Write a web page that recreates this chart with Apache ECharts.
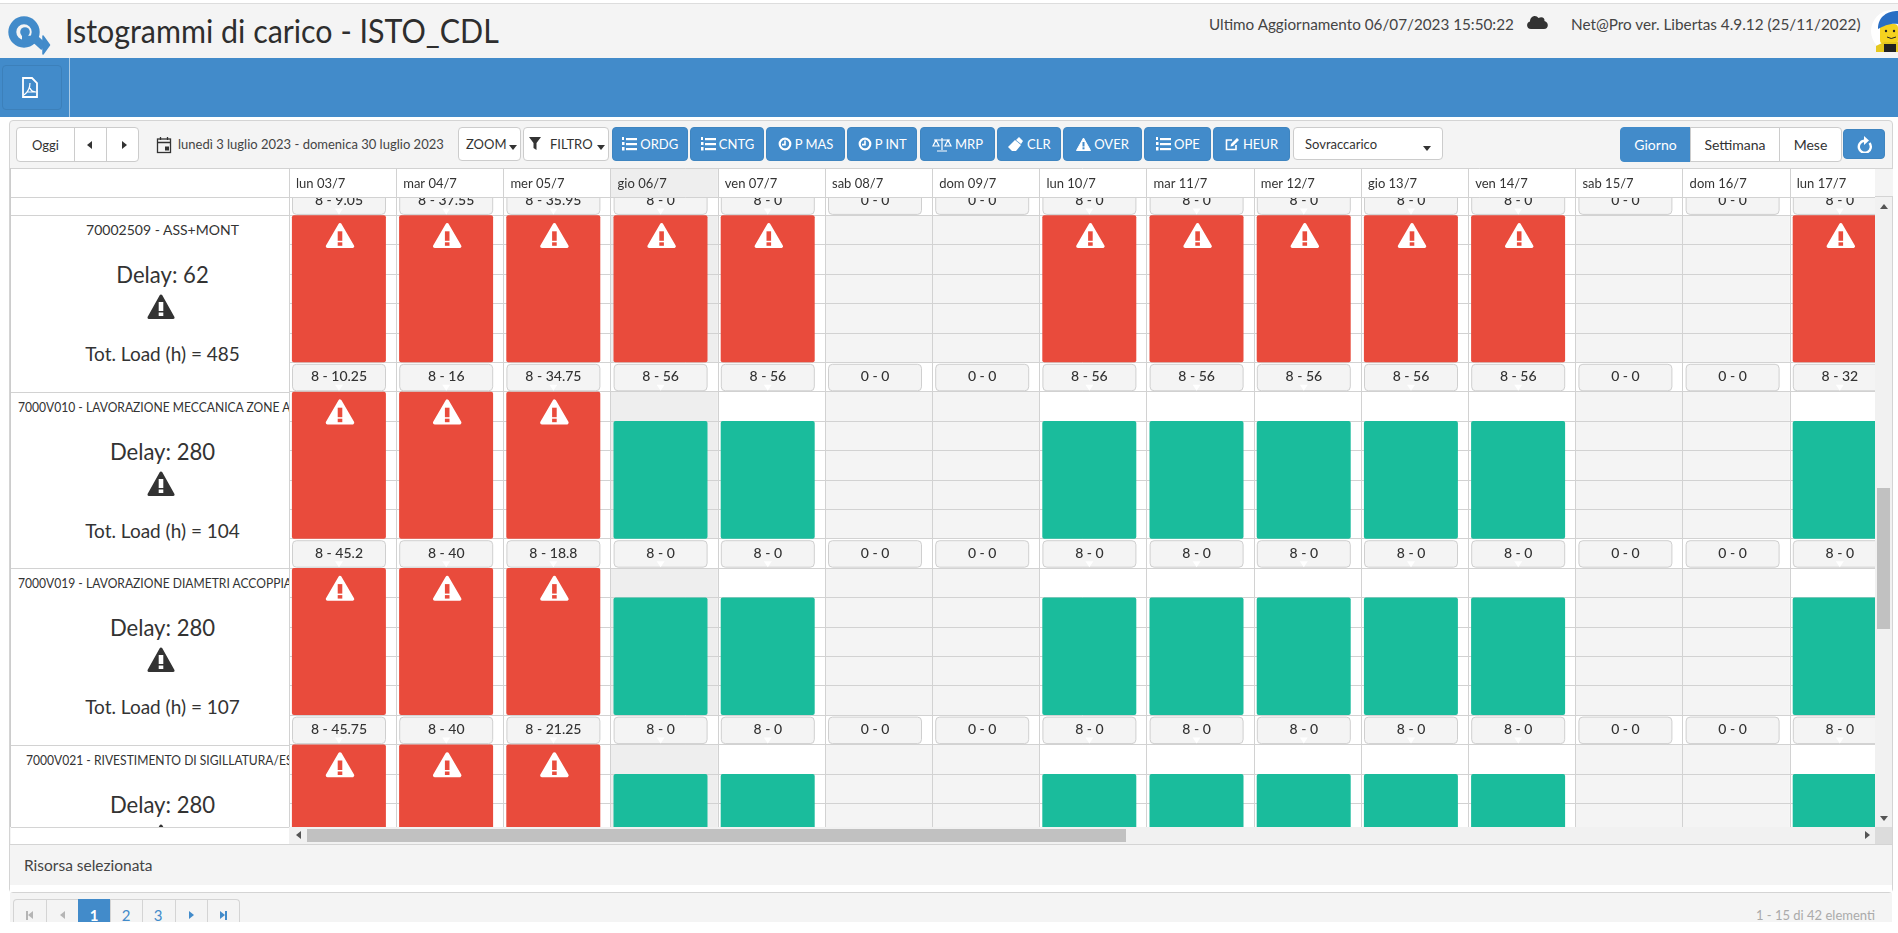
<!DOCTYPE html>
<html lang="it"><head><meta charset="utf-8"><title>Istogrammi di carico - ISTO_CDL</title>
<script src="https://cdn.jsdelivr.net/npm/echarts@6/dist/echarts.min.js"></script>
<style>
html,body{margin:0;padding:0;background:#fff;width:1898px;height:933px;overflow:hidden;font-family:Lato,"Noto Sans",sans-serif;color:#333}
.a{position:absolute;box-sizing:border-box}
.btn{position:absolute;top:127px;height:34px;background:#428bca;border:1px solid #3f85c0;border-radius:4px;color:#fff;font-size:14px;display:flex;align-items:center;justify-content:center;gap:3px;white-space:nowrap}
.wbtn{position:absolute;background:#fff;border:1px solid #ccc;border-radius:4px;font-size:13px;display:flex;align-items:center;white-space:nowrap;box-sizing:border-box}
.caret{position:absolute;width:0;height:0;border-left:4px solid transparent;border-right:4px solid transparent;border-top:5px solid #333}
.tx{position:absolute;white-space:nowrap}
</style></head><body>
<div id="chrome"></div>
<div id="chart" class="a" style="left:10px;top:168px;width:1865px;height:659px;z-index:1"></div>
<div id="leftcol" class="a" style="left:10px;top:168px;width:279px;height:659px;overflow:hidden;background:#fff;z-index:2;border-left:1px solid #ccc"></div>
<div id="over"></div>
<script>
// ---- data ----
const categories = ['lun 03/7','mar 04/7','mer 05/7','gio 06/7','ven 07/7','sab 08/7','dom 09/7','lun 10/7','mar 11/7','mer 12/7','gio 13/7','ven 14/7','sab 15/7','dom 16/7','lun 17/7'];
const capacity = [8,8,8,8,8,0,0,8,8,8,8,8,0,0,8];
const todayIndex = 3;
const load0 = [9.05,37.55,35.95,0,0,0,0,0,0,0,0,0,0,0,0];
const load1 = [10.25,16,34.75,56,56,0,0,56,56,56,56,56,0,0,32];
const load2 = [45.2,40,18.8,0,0,0,0,0,0,0,0,0,0,0,0];
const load3 = [45.75,40,21.25,0,0,0,0,0,0,0,0,0,0,0,0];
const load4 = [45,40,20,0,0,0,0,0,0,0,0,0,0,0,0];
const resourceNames = ['70002509 - ASS+MONT','7000V010 - LAVORAZIONE MECCANICA ZONE ACCOPPIAMENTO','7000V019 - LAVORAZIONE DIAMETRI ACCOPPIAMENTO','7000V021 - RIVESTIMENTO DI SIGILLATURA/ESTERNO'];
const delays = [62,280,280,280];
const totalLoads = [485,104,107,null];
const toolbarLabels = ['ORDG','CNTG','P MAS','P INT','MRP','CLR','OVER','OPE','HEUR'];
const viewLabels = ['Giorno','Settimana','Mese'];
const pages = ['1','2','3'];

// ---- layout constants (pixels of the page) ----
const RED='#e94b3c', GREEN='#1abc9c', LINE='#d2d2d2', BLUE='#428bca', WEEKEND='#f4f4f4', TODAY='#eeeeee';
const CHART_X=10, CHART_Y=168, COL0=289, COLW=107.2, ROWH=176.4, ROW0=38.9;
const rowsLoad=[load0,load1,load2,load3,load4];

function buttonRender(params,api){
  const i=api.value(0), cap=api.value(1), load=api.value(2);
  const p=api.coord([i,0]), band=api.size([1,0])[0], left=p[0]-band/2, y=p[1];
  const bx=left+3.5, bw=93, by=y+2, bh=26.5, cx=bx+bw/2;
  const ch=[
    {type:'rect',shape:{x:bx,y:by,width:bw,height:bh,r:4},style:{fill:'#f4f4f4',stroke:'#cfcfcf',lineWidth:1}},
    {type:'text',style:{text:cap+' - '+load,x:cx,y:by+12.5,align:'center',verticalAlign:'middle',fontSize:14,fontFamily:'Lato',fontWeight:500,fill:'#333'}}
  ];
  if(cap>0) ch.push({type:'polygon',shape:{points:[[cx-4,by+bh-6],[cx+4,by+bh-6],[cx,by+bh]]},style:{fill:'#fff'}});
  if(load>cap){
    const top=api.coord([i,10])[1], c=left+51;
    ch.push({type:'polygon',shape:{points:[[c,top+9.5],[c+12.5,top+31],[c-12.5,top+31]]},style:{fill:'#fff',stroke:'#fff',lineWidth:3.5,lineJoin:'round'}});
    ch.push({type:'rect',shape:{x:c-2.3,y:top+16,width:4.6,height:9.5},style:{fill:RED}});
    ch.push({type:'rect',shape:{x:c-2.3,y:top+27,width:4.6,height:3.5},style:{fill:RED}});
  }
  return {type:'group',children:ch};
}
function backRender(params,api){
  const i=api.value(0), cap=api.value(1);
  if(cap>0 && i!==todayIndex) return null;
  const a=api.coord([i,10]), b=api.coord([i,0]), band=api.size([1,0])[0];
  return {type:'rect',shape:{x:a[0]-band/2,y:a[1],width:band,height:b[1]-a[1]},style:{fill:cap>0?TODAY:WEEKEND}};
}
function headRender(params,api){
  const i=api.value(0), a=api.coord([i,1]), b=api.coord([i+1,0]);
  return {type:'rect',shape:{x:a[0],y:a[1],width:b[0]-a[0],height:b[1]-a[1]},style:{fill:TODAY}};
}

const grids=[],xAxes=[],yAxes=[],series=[];
const gridLeft=COL0-CHART_X, gridWidth=COLW*categories.length;
rowsLoad.forEach((load,r)=>{
  const rows=categories.map((c,i)=>[i,capacity[i],load[i]]);
  grids.push({outerBoundsMode:'none',left:gridLeft,top:ROW0-CHART_Y+ROWH*r,width:gridWidth,height:ROWH});
  xAxes.push({type:'category',gridIndex:r,data:categories,z:1,axisLabel:{show:false},axisTick:{show:false},axisLine:{show:false},splitLine:{show:true,interval:0,lineStyle:{color:LINE,width:1}}});
  yAxes.push({type:'value',gridIndex:r,min:-2,max:10,interval:2,z:1,axisLabel:{show:false},axisTick:{show:false},axisLine:{show:false},splitLine:{show:true,lineStyle:{color:LINE,width:1}}});
  series.push({type:'custom',name:'sfondo',xAxisIndex:r,yAxisIndex:r,z:0,silent:true,data:rows,encode:{x:0,y:1},renderItem:backRender});
  series.push({type:'bar',name:'Sovraccarico',xAxisIndex:r,yAxisIndex:r,z:2,stack:'r'+r,barWidth:94,barGap:0,silent:true,itemStyle:{color:RED,borderRadius:2},data:load.map((l,i)=>l>capacity[i]?l:null)});
  series.push({type:'bar',name:'Capacita',xAxisIndex:r,yAxisIndex:r,z:2,stack:'r'+r,barWidth:94,barGap:0,silent:true,itemStyle:{color:GREEN,borderRadius:2},data:load.map((l,i)=>(l<=capacity[i]&&capacity[i]>0)?capacity[i]:null)});
  series.push({type:'bar',name:'spazio',xAxisIndex:r,yAxisIndex:r,z:2,barWidth:7.4,barGap:0,silent:true,itemStyle:{color:'transparent'},data:load.map(()=>null)});
  series.push({type:'custom',name:'etichette',xAxisIndex:r,yAxisIndex:r,z:3,silent:true,data:rows,encode:{x:0,y:1},renderItem:buttonRender});
});
// header row
const H=rowsLoad.length;
grids.push({outerBoundsMode:'none',left:gridLeft,top:0,width:gridWidth,height:29,show:true,backgroundColor:'#fff',borderWidth:0,z:15});
xAxes.push({type:'category',gridIndex:H,position:'top',boundaryGap:false,data:categories.concat(['']),z:20,
  axisLine:{show:false},axisTick:{show:false},splitLine:{show:true,interval:0,lineStyle:{color:LINE}},
  axisLabel:{show:true,inside:true,interval:0,align:'left',margin:9,padding:[0,0,0,7],fontSize:13,fontFamily:'Lato',color:'#333'}});
yAxes.push({type:'value',gridIndex:H,min:0,max:1,interval:1,z:20,axisLabel:{show:false},axisTick:{show:false},axisLine:{show:false},splitLine:{show:true,lineStyle:{color:LINE}}});
series.push({type:'custom',name:'oggi',xAxisIndex:H,yAxisIndex:H,z:16,silent:true,data:[[todayIndex,1]],encode:{x:0,y:1},renderItem:headRender});

const chart=echarts.init(document.getElementById('chart'),null,{renderer:'canvas'});
chart.setOption({animation:false,backgroundColor:'#fff',tooltip:{show:false},grid:grids,xAxis:xAxes,yAxis:yAxes,series:series});

// ---- page chrome ----
const S=(w,h,b)=>`<svg width="${w}" height="${h}" viewBox="0 0 ${w} ${h}" style="flex:none">${b}</svg>`;
const listI=S(16,14,'<g fill="#fff"><rect x="5" y="1" width="11" height="2.2"/><rect x="5" y="6" width="11" height="2.2"/><rect x="5" y="11" width="11" height="2.2"/><rect x="1" y="0" width="2" height="3"/><rect x="1" y="5" width="2.5" height="3"/><rect x="1" y="10" width="2.5" height="3.5"/></g>');
const clockI=S(14,14,'<circle cx="7" cy="7" r="5.3" fill="none" stroke="#fff" stroke-width="2.2"/><path d="M7 3.5V7.6H4" fill="none" stroke="#fff" stroke-width="1.6"/>');
const scaleI=S(20,15,'<path d="M10 1V13M5 14H15M2 3H18M4 3L1 9H7ZM16 3L13 9H19Z" fill="none" stroke="#fff" stroke-width="1.2"/>');
const eraserI=S(17,15,'<path d="M1 10L8 3L14 8L9 14H5Z" fill="#fff"/><path d="M9 3L12 0L16 4L14 7Z" fill="#fff"/>');
const warnI=S(15,14,'<path d="M7.5 1L14.5 13.5H.5Z" fill="#fff" stroke="#fff" stroke-linejoin="round"/><rect x="6.5" y="5" width="2" height="4.5" fill="#428bca"/><rect x="6.5" y="10.3" width="2" height="2" fill="#428bca"/>');
const editI=S(15,14,'<path d="M11 8V12.5H1.5V3H7" fill="none" stroke="#fff" stroke-width="1.6"/><path d="M5.5 9.5L6 7L12 1L14 3L8 9Z" fill="#fff"/>');
const tbIcons=[listI,listI,clockI,clockI,scaleI,eraserI,warnI,listI,editI];
const tbX=[[611.6,688],[690,764],[766,845],[847,917.4],[920,995],[997,1060.7],[1063,1142],[1144,1210.7],[1213,1290]];
const el=document.getElementById('chrome');
let h='';
// top bars
h+=`<div class="a" style="left:0;top:3px;width:1898px;height:55px;background:#f4f4f4;border-top:1px solid #ddd"></div>`;
h+=`<div class="a" style="left:0;top:58px;width:1898px;height:59px;background:${BLUE}"></div>`;
h+=`<div class="a" style="left:69px;top:58px;width:1px;height:59px;background:#a9cae6"></div>`;
h+=`<div class="a" style="left:2px;top:65px;width:60px;height:45px;border:1px solid #3c80ba;border-radius:4px"></div>`;
h+=`<svg class="a" style="left:20px;top:76px" width="20" height="24" viewBox="0 0 20 24"><path d="M3 2H12L17 7V21H3Z" fill="none" stroke="#fff" stroke-width="1.8"/><path d="M10 7C10 12 8 16 4 19M10 12C11 15 13 16 16 16M7 16H15" fill="none" stroke="#fff" stroke-width="1.2"/></svg>`;
h+=`<svg class="a" style="left:6px;top:12px" width="50" height="45" viewBox="0 0 50 45"><circle cx="18" cy="20" r="11.7" fill="none" stroke="${BLUE}" stroke-width="8"/><circle cx="19" cy="20" r="4.8" fill="${BLUE}"/><path d="M16 27.7H30L38 35" fill="none" stroke="${BLUE}" stroke-width="8"/><path d="M37 24L43.5 33L37 42Z" fill="${BLUE}" stroke="${BLUE}" stroke-width="1.5" stroke-linejoin="round"/></svg>`;
h+=`<div class="tx" style="left:65px;top:11px;font-size:32px;line-height:40px;color:#2e2e2e;transform:scaleX(.95);transform-origin:0 0">Istogrammi di carico - ISTO_CDL</div>`;
h+=`<div class="tx" style="left:1209px;top:14px;font-size:15.25px;line-height:20px;color:#444">Ultimo Aggiornamento 06/07/2023 15:50:22</div>`;
h+=`<svg class="a" style="left:1526px;top:13px" width="23" height="17" viewBox="0 0 23 17"><path d="M5 16C0 16 0 9 4 8.5C4 3 10 1 12.5 5C16 3 19 5 18.5 8C23 9 23 16 18 16Z" fill="#333"/></svg>`;
h+=`<div class="tx" style="left:1571px;top:14px;font-size:15.3px;line-height:20px;color:#444">Net@Pro ver. Libertas 4.9.12 (25/11/2022)</div>`;
h+=`<svg class="a" style="left:1870px;top:8px" width="28" height="44" viewBox="0 0 28 44"><circle cx="22" cy="23" r="21" fill="#fff"/><rect x="10" y="16" width="18" height="20" rx="4" fill="#f5d21f"/><path d="M8 21C8 8 18 3 28 3V16C20 15 14 18 8 21Z" fill="#2a6fc4"/><circle cx="16" cy="23" r="1.2" fill="#222"/><circle cx="24" cy="23" r="1.2" fill="#222"/><path d="M17 29Q21 32 26 29" stroke="#222" fill="none"/><path d="M6 44V38L14 34H28V44Z" fill="#e6c81e"/><path d="M14 36H26V44H14Z" fill="#222"/></svg>`;
// panel
h+=`<div class="a" style="left:9px;top:120px;width:1884px;height:773px;background:#f4f4f4;border:1px solid #d4d4d4;border-radius:4px"></div>`;
h+=`<div class="a" style="left:10px;top:885px;width:1882px;height:7px;background:#fff"></div>`;
h+=`<div class="a" style="left:10px;top:844px;width:1882px;height:1px;background:#d4d4d4"></div>`;
h+=`<div class="tx" style="left:24px;top:855px;font-size:15.5px;line-height:20px;color:#444">Risorsa selezionata</div>`;
// today / nav
h+=`<div class="wbtn" style="left:16px;top:127px;width:123px;height:35px"><span style="position:absolute;left:15px">Oggi</span><i class="a" style="left:57px;top:0;width:1px;height:33px;background:#ccc"></i><i class="a" style="left:89px;top:0;width:1px;height:33px;background:#ccc"></i><i class="a" style="left:70px;top:13px;border-top:4.5px solid transparent;border-bottom:4.5px solid transparent;border-right:5px solid #333"></i><i class="a" style="left:105px;top:13px;border-top:4.5px solid transparent;border-bottom:4.5px solid transparent;border-left:5px solid #333"></i></div>`;
h+=`<svg class="a" style="left:156px;top:136px" width="16" height="18" viewBox="0 0 16 18"><rect x="1.5" y="3" width="13" height="13.5" fill="none" stroke="#333" stroke-width="1.3"/><path d="M1.5 6.5H14.5M4.5 1V4M11.5 1V4" stroke="#333" stroke-width="1.3"/><rect x="9" y="10.5" width="4" height="4" fill="#333"/></svg>`;
h+=`<div class="tx" style="left:178px;top:135px;font-size:13px;line-height:18px;color:#444">lunedì 3 luglio 2023 - domenica 30 luglio 2023</div>`;
h+=`<div class="wbtn" style="left:458px;top:127px;width:63px;height:34px"><span style="position:absolute;left:7px">ZOOM</span><i class="caret" style="left:50px;top:17px"></i></div>`;
h+=`<div class="wbtn" style="left:523px;top:127px;width:86px;height:34px"><svg class="a" style="left:5px;top:9px" width="12" height="13" viewBox="0 0 12 13"><path d="M0 0H12L7.5 6V13L4.5 11V6Z" fill="#333"/></svg><span style="position:absolute;left:26px">FILTRO</span><i class="caret" style="left:73px;top:17px"></i></div>`;
toolbarLabels.forEach((t,i)=>{h+=`<div class="btn" style="left:${tbX[i][0]}px;width:${tbX[i][1]-tbX[i][0]}px;box-sizing:border-box;font-size:13px">${tbIcons[i]}<span>${t}</span></div>`;});
h+=`<div class="wbtn" style="left:1293px;top:127px;width:150px;height:33px"><span style="position:absolute;left:11px">Sovraccarico</span><i class="caret" style="left:129px;top:18px"></i></div>`;
const vx=[[1620,1690],[1690,1779],[1779,1842]];
viewLabels.forEach((t,i)=>{const on=i===0;h+=`<div class="wbtn" style="left:${vx[i][0]}px;top:127px;width:${vx[i][1]-vx[i][0]+(i<2?1:0)}px;height:35px;justify-content:center;font-size:14px;${on?`background:${BLUE};border-color:${BLUE};color:#fff;border-radius:4px 0 0 4px;`:(i==1?'border-radius:0;':'border-radius:0 4px 4px 0;')}">${t}</div>`;});
h+=`<div class="btn" style="left:1843px;top:129px;width:42px;height:30px;box-sizing:border-box"><svg width="17" height="18" viewBox="0 0 17 18"><path d="M13.5 7A6 6 0 1 1 8 4.8" fill="none" stroke="#fff" stroke-width="2.4" transform="translate(0,1)"/><path d="M8 1V10L13 5.5Z" fill="#fff"/></svg></div>`;
// pager
h+=`<div class="a" style="left:10px;top:893px;width:1882px;height:29px;background:#f4f4f4"></div>`;
const pgX=[13,46,78,110,142,175,207,240];
h+=`<div class="a" style="left:13px;top:899px;width:227px;height:23px;background:#f4f4f4;border:1px solid #d4d4d4;border-bottom:0;border-radius:4px 4px 0 0"></div>`;
pgX.slice(1,7).forEach(x=>{h+=`<div class="a" style="left:${x}px;top:899px;width:1px;height:23px;background:#d4d4d4"></div>`;});
h+=`<div class="a" style="left:78px;top:899px;width:32px;height:23px;background:${BLUE}"></div>`;
pages.forEach((p,i)=>{h+=`<div class="tx" style="left:${pgX[i+2]}px;top:906px;width:32px;text-align:center;font-size:15px;line-height:18px;color:${i==0?'#fff':BLUE};font-weight:${i==0?700:400}">${p}</div>`;});
const tri=(x,dir,col,bar)=>`<i class="a" style="left:${x}px;top:911px;border-top:4.5px solid transparent;border-bottom:4.5px solid transparent;${dir=='l'?'border-right':'border-left'}:5px solid ${col}"></i>`+(bar?`<i class="a" style="left:${bar}px;top:911px;width:1.6px;height:9px;background:${col}"></i>`:'');
h+=tri(28,'l','#b5b5b5',26)+tri(60,'l','#b5b5b5')+tri(189,'r',BLUE)+tri(220,'r',BLUE,225);
h+=`<div class="tx" style="right:23px;top:906px;font-size:13px;line-height:18px;color:#aaa">1 - 15 di 42 elementi</div>`;
el.innerHTML=h;

// left column and scrollbars
const lc=document.getElementById('leftcol');
const titleLeft=[null,7,7,15];
const wIcon='<svg width="28" height="26" viewBox="0 0 28 26" style="display:block"><path d="M14 2L26 23.5H2Z" fill="#333" stroke="#333" stroke-width="3" stroke-linejoin="round"/><rect x="11.7" y="8" width="4.6" height="9" fill="#fff"/><rect x="11.7" y="18.5" width="4.6" height="3.5" fill="#fff"/></svg>';
let lh=`<div class="a" style="left:0;top:0;width:278px;height:1px;background:${LINE}"></div><div class="a" style="left:0;top:29px;width:278px;height:1px;background:${LINE}"></div>`;
resourceNames.forEach((n,i)=>{
  const top=ROW0+ROWH*(i+1)-CHART_Y;
  lh+=`<div class="a" style="left:0;top:${top}px;width:278px;height:1px;background:${LINE}"></div>`;
  const tl=titleLeft[i];
  const titleStyle = tl===null ? 'left:0;width:303px;text-align:center;font-size:14px' : `left:${tl}px;font-size:13px;transform:scaleX(.93);transform-origin:0 0`;
  lh+=`<div class="tx" style="${titleStyle};top:${top+6}px;line-height:18px;color:#333">${n}</div>`;
  lh+=`<div class="tx" style="left:0;width:303px;text-align:center;top:${top+42}px;font-size:24px;line-height:34px;color:#333;transform:scaleX(.92)">Delay: ${delays[i]}</div>`;
  lh+=`<div class="a" style="left:136px;top:${top+79}px">${wIcon}</div>`;
  if(totalLoads[i]!==null) lh+=`<div class="tx" style="left:0;width:303px;text-align:center;top:${top+127}px;font-size:19px;line-height:24px;color:#333">Tot. Load (h) = ${totalLoads[i]}</div>`;
});
lc.innerHTML=lh;
let o='';
o+=`<div class="a" style="left:1875px;top:168px;width:18px;height:29px;background:#f4f4f4;border-top:1px solid #d4d4d4;border-bottom:1px solid #d4d4d4;z-index:3"></div>`;
o+=`<div class="a" style="left:1875px;top:197px;width:17px;height:630px;background:#f1f1f1;z-index:3"></div>`;
o+=`<div class="a" style="left:1877px;top:488px;width:13px;height:141px;background:#c1c1c1;z-index:3"></div>`;
o+=`<div class="a" style="left:1879.5px;top:204px;border-left:4px solid transparent;border-right:4px solid transparent;border-bottom:5px solid #555;z-index:3"></div>`;
o+=`<div class="a" style="left:1879.5px;top:816px;border-left:4px solid transparent;border-right:4px solid transparent;border-top:5px solid #555;z-index:3"></div>`;
o+=`<div class="a" style="left:11px;top:827px;width:278px;height:17px;background:#fff;border-top:1px solid #d4d4d4;z-index:3"></div>`;
o+=`<div class="a" style="left:289px;top:827px;width:1586px;height:17px;background:#f1f1f1;z-index:3"></div>`;
o+=`<div class="a" style="left:307px;top:829px;width:819px;height:13px;background:#c1c1c1;z-index:3"></div>`;
o+=`<div class="a" style="left:296px;top:831px;border-top:4px solid transparent;border-bottom:4px solid transparent;border-right:5px solid #555;z-index:3"></div>`;
o+=`<div class="a" style="left:1865px;top:831px;border-top:4px solid transparent;border-bottom:4px solid transparent;border-left:5px solid #555;z-index:3"></div>`;
o+=`<div class="a" style="left:1875px;top:827px;width:17px;height:17px;background:#dcdcdc;z-index:3"></div>`;
document.getElementById('over').innerHTML=o;
</script></body></html>
